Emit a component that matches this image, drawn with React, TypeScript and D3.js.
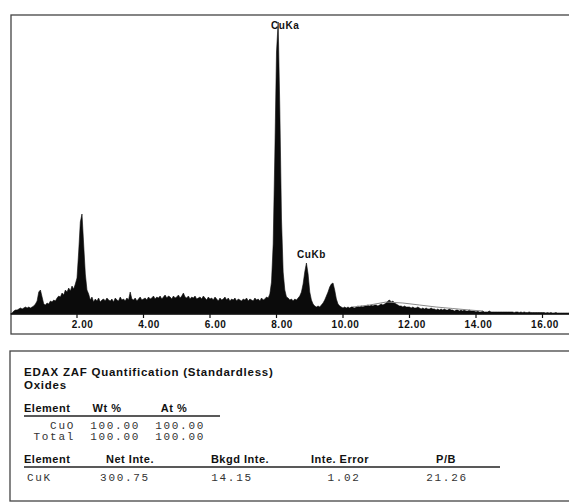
import * as d3 from "d3";

// EDS spectrum, one value per 0.05 keV channel starting at 0.00 keV
const channelWidth = 0.05;
const spectrumCounts = [
  0, 1, 3, 4, 4, 5, 6, 5, 6, 7, 6, 7, 6, 7, 8, 10, 13, 22, 24, 17,
  10, 9, 11, 10, 13, 12, 14, 13, 16, 18, 17, 21, 19, 24, 22, 26, 23, 28, 25, 30,
  36, 62, 92, 100, 70, 40, 24, 20, 14, 17, 12, 15, 13, 16, 12, 14, 15, 13, 16, 14,
  13, 15, 12, 16, 14, 13, 17, 14, 15, 13, 16, 14, 22, 15, 14, 16, 13, 15, 17, 14,
  15, 16, 14, 17, 15, 16, 18, 15, 17, 16, 18, 15, 17, 19, 16, 18, 17, 15, 18, 16,
  17, 19, 16, 18, 21, 17, 16, 18, 15, 17, 16, 18, 15, 16, 17, 15, 18, 16, 14, 17,
  15, 16, 14, 17, 15, 13, 16, 14, 15, 17, 14, 16, 13, 15, 14, 16, 13, 15, 14, 13,
  15, 14, 16, 13, 15, 14, 13, 16, 14, 15, 13, 16, 14, 15, 17, 16, 20, 32, 70, 160,
  262, 292, 205, 95, 42, 24, 17, 16, 14, 15, 13, 15, 14, 16, 18, 22, 30, 42, 51, 40,
  22, 14, 10, 8, 7, 8, 7, 9, 11, 14, 18, 22, 27, 30, 31, 24, 15, 10, 8, 7,
  6, 7, 6, 7, 6, 7, 7, 6, 7, 8, 7, 8, 7, 8, 8, 9, 8, 9, 8, 9,
  9, 8, 9, 10, 9, 10, 11, 13, 14, 12, 13, 11, 10, 9, 8, 8, 7, 8, 7, 7,
  7, 6, 7, 6, 6, 7, 6, 5, 6, 5, 6, 5, 5, 6, 5, 5, 4, 5, 4, 5,
  4, 5, 4, 4, 5, 4, 4, 3, 4, 4, 3, 4, 3, 4, 3, 3, 4, 3, 3, 3,
  2, 3, 2, 2, 3, 2, 2, 2, 3, 2, 2, 2, 2, 2, 2, 2, 2, 2, 2, 2,
  2, 2, 2, 1.5, 2, 2, 1.5, 2, 1.5, 2, 1.5, 1.5, 2, 1.5, 1.5, 1.5, 1.5, 1.5, 1.5, 1.5,
  1.5, 1.5, 1, 1.5, 1, 1.5, 1, 1, 1.5, 1, 1, 1, 1, 1, 1, 1, 1, 1, 1, 1,
  1,
];

// grey background-fit line drawn above the spectrum
const fitEnergy = [10.3, 10.8, 11.3, 11.8, 12.3, 12.8, 13.3, 13.8, 14.2];
const fitCounts = [7, 9, 12, 11, 9, 7, 5.5, 4, 3];

const tickValues = [2, 4, 6, 8, 10, 12, 14, 16];
const peakNames = ["CuKa", "CuKb"];
const peakEnergies = [8.05, 8.9];
const peakCounts = [292, 51];

const oxideHeaders = ["Element", "Wt %", "At %"];
const oxideRows = [
  ["CuO", "100.00", "100.00"],
  ["Total", "100.00", "100.00"],
];
const lineHeaders = ["Element", "Net Inte.", "Bkgd Inte.", "Inte. Error", "P/B"];
const lineRows = [["CuK", "300.75", "14.15", "1.02", "21.26"]];

const W = 569;
const H = 502;
const sans = "'Liberation Sans', Arial, sans-serif";
const mono = "'Liberation Mono', 'Courier New', monospace";

export default function App() {
  const x = d3.scaleLinear().domain([0, 16]).range([10.5, 542.5]);
  const y = d3.scaleLinear().domain([0, 300]).range([314, 14]);

  const area = d3
    .area<number>()
    .x((d, i) => x(i * channelWidth))
    .y0(y(0))
    .y1((d) => y(d));

  const fitLine = d3
    .line<number>()
    .x((d, i) => x(fitEnergy[i]))
    .y((d) => y(d));

  // column placements for the tables
  const oxideX = [24, 107, 174];
  const oxideValX = [75, 140, 205];
  const lineX = [24, 130, 240, 340, 446];
  const lineValX = [27, 125, 232, 344, 447];

  return (
    <svg
      width={W}
      height={H}
      style={{ position: "absolute", left: 0, top: 0, background: "#fff" }}
    >
      {/* spectrum frame */}
      <rect x={11} y={15} width={570} height={319} fill="none" stroke="#444" strokeWidth={1.3} />

      <path d={area(spectrumCounts) || ""} fill="#0b0b0b" stroke="#0b0b0b" strokeWidth={0.6} />
      <path d={fitLine(fitCounts) || ""} fill="none" stroke="#8a8a8a" strokeWidth={1} />

      {/* x axis */}
      <line x1={11} x2={W} y1={y(0)} y2={y(0)} stroke="#111" strokeWidth={1.6} />
      {tickValues.map((t) => (
        <g key={t}>
          <line x1={x(t)} x2={x(t)} y1={y(0)} y2={y(0) + 4} stroke="#111" strokeWidth={1.2} />
          <text
            x={x(t) + 16.5}
            y={328}
            textAnchor="end"
            fontFamily={sans}
            fontWeight="bold"
            fontSize={10}
            letterSpacing={0.6}
            fill="#111"
          >
            {t.toFixed(2)}
          </text>
        </g>
      ))}

      {/* peak labels */}
      <text x={x(peakEnergies[0]) + 7} y={y(peakCounts[0]) + 7} textAnchor="middle"
        fontFamily={sans} fontWeight="bold" fontSize={10} letterSpacing={0.5} fill="#111">
        {peakNames[0]}
      </text>
      <text x={x(peakEnergies[1]) + 5} y={y(peakCounts[1]) - 5} textAnchor="middle"
        fontFamily={sans} fontWeight="bold" fontSize={10} letterSpacing={0.5} fill="#111">
        {peakNames[1]}
      </text>

      {/* quantification table frame */}
      <rect x={10} y={351} width={570} height={150} fill="none" stroke="#444" strokeWidth={1.3} />

      <text x={24} y={376} fontFamily={sans} fontWeight="bold" fontSize={11.5} letterSpacing={0.75} fill="#111">
        EDAX ZAF Quantification (Standardless)
      </text>
      <text x={24} y={389} fontFamily={sans} fontWeight="bold" fontSize={11.5} letterSpacing={0.75} fill="#111">
        Oxides
      </text>

      {oxideHeaders.map((h, i) => (
        <text key={h} x={oxideX[i]} y={412} textAnchor={i === 0 ? "start" : "middle"}
          fontFamily={sans} fontWeight="bold" fontSize={11} letterSpacing={0.5} fill="#111">
          {h}
        </text>
      ))}
      <line x1={24} x2={220} y1={416} y2={416} stroke="#222" strokeWidth={1.3} />
      {oxideRows.map((row, r) =>
        row.map((v, i) => (
          <text key={r + "-" + i} x={oxideValX[i]} y={429 + r * 11} textAnchor="end"
            fontFamily={mono} fontSize={11} letterSpacing={1.7} fill="#333">
            {v}
          </text>
        ))
      )}

      {lineHeaders.map((h, i) => (
        <text key={h + i} x={lineX[i]} y={463} textAnchor={i === 0 ? "start" : "middle"}
          fontFamily={sans} fontWeight="bold" fontSize={11} letterSpacing={0.5} fill="#111">
          {h}
        </text>
      ))}
      <line x1={24} x2={500} y1={467} y2={467} stroke="#222" strokeWidth={1.3} />
      {lineRows.map((row, r) =>
        row.map((v, i) => (
          <text key={r + "-" + i} x={lineValX[i]} y={481 + r * 11} textAnchor={i === 0 ? "start" : "middle"}
            fontFamily={mono} fontSize={11} letterSpacing={1.7} fill="#333">
            {v}
          </text>
        ))
      )}
    </svg>
  );
}
